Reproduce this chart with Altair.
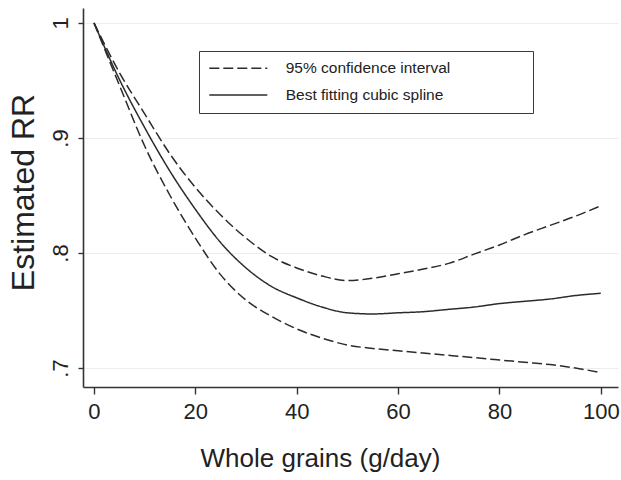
import altair as alt
import pandas as pd

# ---- data ----
whole_grains = [0, 5, 10, 15, 20, 25, 30, 35, 40, 45, 50, 55, 60, 65, 70, 75, 80, 85, 90, 95, 100]
upper_ci = [1.000, 0.957, 0.921, 0.886, 0.857, 0.833, 0.813, 0.797, 0.787, 0.780, 0.776,
            0.778, 0.782, 0.786, 0.791, 0.799, 0.807, 0.816, 0.824, 0.832, 0.841]
spline_fit = [1.000, 0.951, 0.909, 0.871, 0.838, 0.809, 0.787, 0.771, 0.761, 0.753, 0.748,
              0.747, 0.748, 0.749, 0.751, 0.753, 0.756, 0.758, 0.760, 0.763, 0.765]
lower_ci = [1.000, 0.946, 0.893, 0.850, 0.813, 0.781, 0.759, 0.745, 0.734, 0.726, 0.720,
            0.717, 0.715, 0.713, 0.711, 0.709, 0.707, 0.705, 0.703, 0.700, 0.696]
series_labels = ["95% confidence interval", "Best fitting cubic spline"]
x_ticks = [0, 20, 40, 60, 80, 100]
y_ticks = [0.7, 0.8, 0.9, 1.0]

rows = []
for name, vals, kind in [("upper", upper_ci, series_labels[0]),
                         ("fit", spline_fit, series_labels[1]),
                         ("lower", lower_ci, series_labels[0])]:
    for x, y in zip(whole_grains, vals):
        rows.append({"grains": x, "rr": y, "series": name, "kind": kind})
df = pd.DataFrame(rows)

FONT = "Liberation Sans, Arial, Helvetica, sans-serif"
INK = "#2b2b2b"
# invisible padding so the legend frame reaches as far right as in the reference
PAD = "\u00a0" * 17 + "\u200b"

legend = alt.Legend(
    title=None,
    orient="none",
    legendX=116,
    legendY=43,
    padding=9.3,
    strokeColor="#3a3a3a",
    fillColor="white",
    clipHeight=16,
    rowPadding=9.7,
    symbolType="stroke",
    symbolSize=3364,
    symbolStrokeWidth=1.5,
    symbolStrokeColor=INK,
    labelOffset=17.4,
    labelFontSize=15.5,
    labelFont=FONT,
    labelColor="#222222",
    labelLimit=600,
    labelExpr="datum.label + '" + PAD + "'",
)

chart = (
    alt.Chart(df)
    .mark_line(interpolate="monotone", strokeWidth=1.5, color=INK)
    .encode(
        x=alt.X(
            "grains:Q",
            scale=alt.Scale(domain=[-2.17, 103.4], nice=False, zero=False),
            axis=alt.Axis(
                values=x_ticks,
                grid=False,
                title="Whole grains (g/day)",
                titleFontSize=26,
                titleFontWeight="normal",
                titleX=237,
                titleY=79.6,
                titleBaseline="alphabetic",
                titleAlign="center",
                tickSize=7,
                labelPadding=7,
                labelFontSize=22,
                labelFlush=False,
                labelOverlap=False,
            ),
        ),
        y=alt.Y(
            "rr:Q",
            scale=alt.Scale(domain=[0.6835, 1.013], nice=False, zero=False),
            axis=alt.Axis(
                values=y_ticks,
                grid=True,
                gridColor="#ededed",
                gridWidth=1,
                title="Estimated RR",
                titleFontSize=32,
                titleFontWeight="normal",
                titleAngle=270,
                titleX=-50,
                titleY=184,
                titleAlign="center",
                titleBaseline="alphabetic",
                tickSize=5,
                labelAngle=270,
                labelAlign="center",
                labelBaseline="alphabetic",
                labelPadding=10.5,
                labelFontSize=22,
                labelFlush=False,
                labelOverlap=False,
                labelExpr="datum.value >= 1 ? '1' : '.' + round(datum.value * 10)",
            ),
        ),
        detail="series:N",
        strokeDash=alt.StrokeDash(
            "kind:N",
            scale=alt.Scale(domain=series_labels, range=[[10, 4], [1, 0]]),
            legend=legend,
        ),
    )
    .properties(
        width=535,
        height=379,
        autosize=alt.AutoSizeParams(type="none"),
        padding={"left": 83, "top": 8, "right": 3, "bottom": 93},
        background="white",
    )
    .configure_view(stroke=None)
    .configure_axis(
        labelFont=FONT,
        titleFont=FONT,
        labelColor="#222222",
        titleColor="#222222",
        domainColor="#333333",
        domainWidth=1.6,
        tickColor="#333333",
        tickWidth=1.4,
    )
)

chart.save("out.html", embed_options={"renderer": "svg", "actions": False})
